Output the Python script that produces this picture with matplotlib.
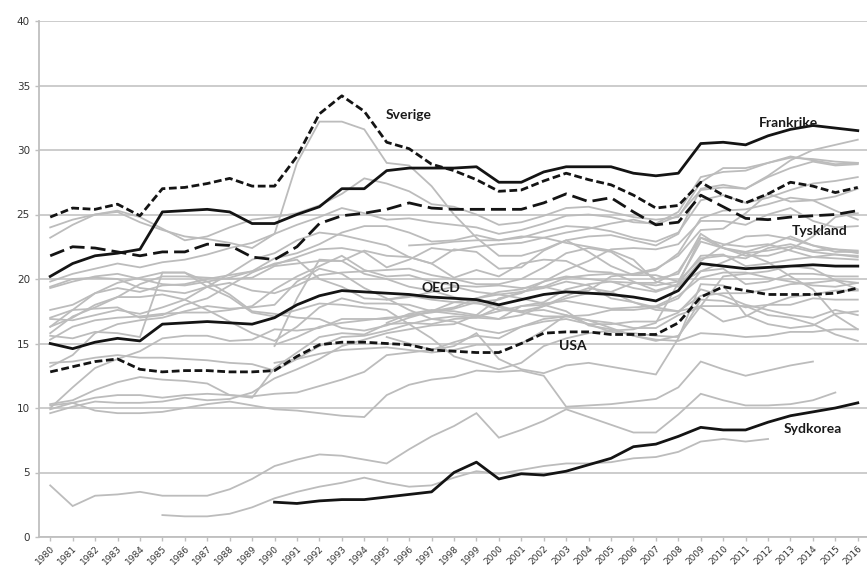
import numpy as np
import matplotlib
matplotlib.use("Agg")
import matplotlib.pyplot as plt

years = list(range(1980, 2017))

# highlighted series, 1980-2016 (None = no data)
sverige = [24.8, 25.5, 25.4, 25.8, 24.9, 27.0, 27.1, 27.4, 27.8, 27.2,
           27.2, 29.5, 32.8, 34.2, 33.0, 30.6, 30.1, 28.9, 28.4, 27.7,
           26.8, 26.9, 27.6, 28.2, 27.7, 27.3, 26.5, 25.5, 25.7, 27.5,
           26.5, 25.9, 26.6, 27.5, 27.2, 26.7, 27.1]
frankrike = [20.2, 21.2, 21.8, 22.0, 22.3, 25.2, 25.3, 25.4, 25.2, 24.3,
             24.3, 25.0, 25.6, 27.0, 27.0, 28.4, 28.6, 28.6, 28.6, 28.7,
             27.5, 27.5, 28.3, 28.7, 28.7, 28.7, 28.2, 28.0, 28.2, 30.5,
             30.6, 30.4, 31.1, 31.6, 31.9, 31.7, 31.5]
tyskland = [21.8, 22.5, 22.4, 22.1, 21.8, 22.1, 22.1, 22.7, 22.6, 21.7,
            21.5, 22.5, 24.3, 24.9, 25.1, 25.4, 25.9, 25.5, 25.4, 25.4,
            25.4, 25.4, 25.9, 26.6, 26.0, 26.3, 25.2, 24.2, 24.4, 26.5,
            25.6, 24.7, 24.6, 24.8, 24.9, 25.0, 25.3]
oecd = [15.0, 14.6, 15.1, 15.4, 15.2, 16.5, 16.6, 16.7, 16.6, 16.5,
        17.0, 18.0, 18.7, 19.1, 19.0, 18.9, 18.8, 18.6, 18.5, 18.4,
        18.0, 18.4, 18.8, 19.0, 18.9, 18.8, 18.6, 18.3, 19.1, 21.2,
        21.0, 20.8, 20.9, 21.0, 21.1, 21.0, 21.0]
usa = [12.8, 13.2, 13.6, 13.8, 13.0, 12.8, 12.9, 12.9, 12.8, 12.8,
       12.9, 14.0, 14.9, 15.1, 15.1, 15.0, 14.9, 14.5, 14.4, 14.3,
       14.3, 15.0, 15.8, 15.9, 15.9, 15.7, 15.7, 15.7, 16.6, 18.6,
       19.4, 19.1, 18.8, 18.8, 18.8, 18.9, 19.3]
sydkorea = [None] * 10 + [
    2.7, 2.6, 2.8, 2.9, 2.9, 3.1, 3.3, 3.5, 5.0, 5.8,
    4.5, 4.9, 4.8, 5.1, 5.6, 6.1, 7.0, 7.2, 7.8, 8.5,
    8.3, 8.3, 8.9, 9.4, 9.7, 10.0, 10.4]

# other OECD countries, drawn in grey
grey_01 = [23.2, 24.2, 25.0, 25.2, 24.4, 23.8, 23.3, 23.1, 22.8, 22.4,
           23.5, 29.0, 32.2, 32.2, 31.6, 29.0, 28.8, 27.2, 25.0, 23.2,
           21.8, 21.8, 22.3, 23.0, 23.3, 23.4, 23.0, 22.6, 23.5, 27.0,
           27.3, 27.0, 28.0, 29.2, 30.0, 30.4, 30.8]
grey_02 = [24.0, 24.6, 25.0, 25.3, 24.8, 23.9, 23.0, 23.3, 24.0, 24.6,
           24.8, 25.1, 25.7, 26.6, 27.8, 27.4, 26.8, 25.8, 25.6, 25.0,
           24.2, 24.4, 24.9, 25.5, 25.6, 25.2, 24.8, 24.6, 24.8, 27.5,
           28.6, 28.6, 29.0, 29.5, 29.2, 28.9, 29.0]
grey_03 = [19.8, 20.4, 20.8, 21.2, 20.9, 21.3, 21.5, 21.9, 22.4, 22.8,
           23.5, 24.2, 24.8, 25.5, 25.1, 24.6, 24.7, 24.4, 24.2, 24.0,
           23.5, 23.8, 24.3, 24.9, 25.0, 24.8, 24.4, 24.3, 25.2, 27.9,
           28.3, 28.4, 29.0, 29.4, 29.3, 29.1, 29.0]
grey_04 = [19.3, 19.8, 20.2, 20.4, 20.0, 19.6, 19.5, 19.8, 20.1, 20.6,
           21.6, 22.0, 22.7, 23.6, 24.1, 24.1, 23.6, 22.9, 23.0, 23.4,
           23.0, 23.2, 23.7, 24.1, 24.0, 23.7, 23.2, 22.9, 23.6, 26.1,
           26.5, 25.9, 26.3, 26.9, 27.4, 27.6, 27.9]
grey_05 = [17.6, 18.0, 18.9, 19.3, 19.0, 19.5, 19.6, 20.0, 20.3, 20.6,
           21.1, 21.7, 22.3, 22.4, 22.1, 20.9, 21.5, 22.4, 22.2, 22.5,
           22.7, 22.8, 23.2, 23.6, 23.9, 24.3, 24.6, 24.2, 24.9, 26.9,
           27.1, 27.0, 27.9, 28.6, 29.1, 28.8, 28.9]
grey_06 = [16.9, 16.8, 17.2, 17.6, 17.3, 17.8, 18.4, 19.4, 20.4, 21.5,
           22.0, 23.0, 23.6, 23.4, 23.0, 22.6, 21.7, 21.2, 22.3, 22.1,
           20.8, 20.9, 22.2, 23.0, 22.1, 21.0, 20.3, 20.3, 19.8, 22.9,
           22.4, 21.8, 21.8, 22.3, 23.3, 24.8, 25.1]
grey_07 = [16.3, 17.0, 18.0, 18.6, 19.6, 20.2, 20.2, 20.1, 20.0, 20.1,
           21.0, 21.2, 21.4, 21.4, 20.4, 20.0, 19.4, 19.1, 18.6, 18.2,
           17.6, 17.5, 17.9, 18.5, 18.9, 19.0, 19.7, 19.5, 19.8, 21.6,
           21.8, 21.6, 22.4, 22.7, 22.2, 22.3, 22.0]
grey_08 = [10.0, 11.6, 13.1, 13.8, 14.4, 15.4, 15.6, 15.6, 15.2, 15.3,
           16.1, 16.0, 16.2, 16.9, 16.9, 16.9, 17.2, 17.4, 17.7, 18.2,
           18.4, 19.0, 19.4, 19.0, 19.1, 20.2, 20.4, 20.8, 21.8, 23.8,
           23.9, 25.1, 26.6, 26.0, 26.1, 26.4, 27.0]
grey_09 = [9.6, 10.1, 10.5, 10.4, 10.4, 10.5, 10.8, 10.6, 10.7, 11.2,
           12.3, 13.0, 13.8, 14.8, 15.3, 15.8, 16.1, 16.4, 16.5, 17.2,
           18.5, 18.9, 19.8, 20.7, 21.4, 22.3, 22.4, 22.3, 22.7, 24.5,
           24.5, 24.2, 25.0, 25.5, 24.5, 24.0, 24.1]
grey_10 = [9.9, 10.4, 10.8, 11.0, 11.0, 10.8, 11.0, 11.1, 11.0, 10.9,
           11.1, 11.2, 11.7, 12.2, 12.8, 14.1, 14.3, 14.5, 15.1, 15.6,
           15.4, 16.3, 16.9, 17.1, 17.2, 17.6, 17.6, 17.8, 18.5, 20.6,
           21.3, 22.0, 22.2, 22.5, 22.1, 21.9, 21.8]
grey_11 = [10.3, 10.6, 11.4, 12.0, 12.4, 12.2, 12.1, 11.9, 11.0, 10.8,
           13.1, 14.3, 15.5, 15.8, 15.7, 16.5, 16.6, 16.5, 16.9, 17.0,
           17.8, 17.4, 17.1, 17.1, 16.8, 16.6, 16.2, 16.2, 17.2, 17.8,
           16.7, 17.1, 18.0, 18.6, 18.8, 19.1, 19.1]
grey_12 = [13.5, 13.6, 13.9, 14.1, 13.9, 13.9, 13.8, 13.7, 13.5, 13.4,
           12.9, 13.8, 14.8, 15.5, 15.6, 16.0, 16.5, 16.9, 17.1, 17.0,
           16.9, 17.2, 17.9, 18.7, 19.3, 19.0, 18.2, 17.6, 17.5, 18.7,
           18.9, 18.9, 19.2, 19.6, 19.7, 19.9, 19.7]
grey_13 = [13.2, 14.1, 15.8, 16.5, 16.8, 17.0, 17.5, 17.9, 17.7, 17.8,
           18.0, 19.8, 20.8, 20.4, 19.3, 18.5, 17.6, 16.9, 16.7, 16.1,
           15.8, 16.3, 16.7, 16.9, 16.5, 16.5, 16.7, 16.7, 17.4, 19.2,
           18.7, 18.0, 17.6, 17.2, 17.0, 17.6, 17.2]
grey_14 = [15.8, 17.1, 17.8, 18.6, 18.6, 18.8, 18.4, 17.6, 16.7, 15.8,
           15.2, 16.3, 17.8, 18.5, 18.1, 18.1, 18.0, 17.5, 17.3, 17.1,
           17.5, 17.9, 18.2, 19.2, 19.6, 19.8, 19.7, 19.7, 20.6, 23.2,
           22.7, 22.5, 22.7, 22.2, 21.7, 21.6, 21.5]
grey_15 = [16.3, 17.6, 18.9, 19.7, 20.1, 20.5, 20.5, 19.4, 18.6, 17.4,
           17.1, 17.6, 18.1, 18.0, 17.8, 17.6, 16.5, 15.4, 14.0, 13.5,
           13.0, 13.5, 14.8, 15.4, 15.8, 16.0, 16.1, 16.6, 19.7, 23.2,
           22.4, 22.0, 21.3, 20.2, 19.2, 17.2, 16.1]
grey_16 = [15.3, 16.3, 16.8, 17.0, 17.1, 17.3, 17.4, 17.4, 17.6, 17.9,
           19.2, 20.2, 21.0, 21.8, 20.7, 20.2, 20.3, 19.8, 19.5, 19.4,
           19.5, 19.3, 19.4, 20.1, 20.3, 20.4, 20.3, 20.7, 22.0, 24.7,
           25.3, 25.4, 25.8, 26.3, 26.1, 25.3, 24.6]
grey_17 = [17.0, 17.6, 17.7, 17.8, 17.0, 17.2, 18.0, 18.5, 19.5, 20.5,
           21.2, 21.5, 20.0, 19.4, 18.5, 18.4, 18.6, 19.0, 19.4, 19.0,
           18.8, 18.5, 18.1, 18.3, 18.0, 17.7, 17.8, 17.9, 18.7, 20.1,
           20.5, 20.5, 20.1, 19.8, 19.5, 19.4, 19.7]
grey_18 = [19.4, 20.0, 20.1, 20.0, 19.3, 19.1, 18.9, 19.4, 19.7, 19.1,
           18.9, 19.5, 20.3, 20.5, 20.6, 20.7, 20.8, 20.3, 20.0, 19.6,
           19.6, 20.0, 20.9, 22.0, 22.4, 22.1, 21.0, 20.0, 20.4, 23.5,
           22.4, 22.1, 22.6, 23.3, 22.6, 22.3, 22.2]
grey_19 = [15.6, 15.4, 15.9, 15.8, 15.5, 20.5, 20.5, 19.8, 18.8, 17.5,
           17.3, 17.0, 16.9, 16.2, 16.0, 16.4, 17.0, 17.5, 18.2, 18.5,
           19.0, 19.2, 19.8, 20.2, 20.0, 19.8, 19.3, 19.0, 19.6, 21.8,
           21.9, 21.0, 21.2, 21.5, 21.7, 21.9, 21.7]
grey_20 = [None] * 10 + [
    14.9, 15.5, 16.3, 16.6, 16.8, 17.0, 17.1, 17.5, 17.8, 18.5,
    18.8, 19.0, 19.3, 19.8, 19.5, 18.5, 18.2, 17.8, 17.5, 17.9,
    20.2, 20.4, 20.6, 21.0, 20.8, 19.9, 19.2, 19.0][:27]
grey_21 = [None] * 10 + [
    14.8, 18.5, 21.5, 21.4, 22.2, 21.8, 21.7, 21.2, 20.1, 20.7,
    20.2, 21.2, 21.5, 21.4, 20.6, 20.5, 19.8, 19.1, 19.6, 20.6,
    20.8, 19.6, 19.8, 20.4, 20.4, 20.2, 20.2]
grey_22 = [None] * 15 + [
    18.4, 18.7, 18.4, 18.2, 18.1, 17.9, 17.5, 17.6, 17.2, 16.5,
    15.9, 15.8, 15.6, 15.5, 18.4, 18.3, 17.8, 18.0, 18.0, 18.5,
    18.4, 18.4]
grey_23 = [None] * 16 + [
    22.6, 22.7, 22.9, 23.0, 23.0, 23.3, 23.2, 22.8, 22.5, 22.2,
    21.5, 19.8, 19.4, 21.4, 22.6, 23.3, 23.4, 23.1, 22.6, 22.1,
    22.1]
grey_24 = [None] * 15 + [
    16.6, 17.3, 17.6, 17.5, 17.2, 16.9, 17.9, 18.0, 17.5, 16.4,
    16.1, 15.6, 15.3, 15.2, 15.8, 15.7, 15.5, 15.6, 15.9, 15.9,
    16.1, 16.1]
grey_25 = [None] * 15 + [
    15.5, 15.0, 14.5, 14.8, 15.8, 13.8, 13.0, 12.7, 13.3, 13.5,
    13.2, 12.9, 12.6, 15.4, 19.6, 19.5, 17.2, 16.5, 16.2, 16.4,
    17.3, 17.5]
grey_26 = [None] * 10 + [
    13.5, 13.8, 14.2, 14.5, 14.6, 14.7, 14.5, 14.3, 14.5, 14.9,
    14.9, 15.0, 16.0, 17.2, 16.8, 16.2, 15.6, 15.2, 15.6, 17.9,
    17.9, 17.9, 17.2, 17.0, 16.5, 15.7, 15.2]
grey_27 = [10.2, 10.4, 9.8, 9.6, 9.6, 9.7, 10.0, 10.3, 10.5, 10.2,
           9.9, 9.8, 9.6, 9.4, 9.3, 11.0, 11.8, 12.2, 12.4, 12.9,
           12.8, 12.9, 12.5, 10.1, 10.2, 10.3, 10.5, 10.7, 11.6, 13.6,
           13.0, 12.5, 12.9, 13.3, 13.6, None, None]
grey_28 = [4.0, 2.4, 3.2, 3.3, 3.5, 3.2, 3.2, 3.2, 3.7, 4.5,
           5.5, 6.0, 6.4, 6.3, 6.0, 5.7, 6.8, 7.8, 8.6, 9.6,
           7.7, 8.3, 9.0, 9.9, 9.3, 8.7, 8.1, 8.1, 9.5, 11.1,
           10.6, 10.2, 10.2, 10.3, 10.6, 11.2, None]
grey_29 = [None] * 5 + [
    1.7, 1.6, 1.6, 1.8, 2.3, 3.0, 3.5, 3.9, 4.2, 4.6,
    4.2, 3.9, 4.0, 4.6, 5.1, 4.9, 5.2, 5.5, 5.7, 5.7,
    5.8, 6.1, 6.2, 6.6, 7.4, 7.6, 7.4, 7.6, None, None,
    None, None]

grey_lines = [grey_01, grey_02, grey_03, grey_04, grey_05, grey_06, grey_07,
              grey_08, grey_09, grey_10, grey_11, grey_12, grey_13, grey_14,
              grey_15, grey_16, grey_17, grey_18, grey_19, grey_20, grey_21,
              grey_22, grey_23, grey_24, grey_25, grey_26, grey_27, grey_28,
              grey_29]


def arr(vals):
    vals = list(vals) + [None] * (len(years) - len(vals))
    return np.array([np.nan if v is None else v for v in vals], dtype=float)


fig = plt.figure(figsize=(8.67, 5.71), dpi=100)
ax = fig.add_axes([39 / 867, 34 / 571, 830 / 867, 516 / 571])

for g in grey_lines:
    ax.plot(years, arr(g), color="#bcbcbc", lw=1.3, zorder=2,
            solid_joinstyle="miter")

blk = dict(color="#141414", lw=2.0, zorder=4)
ax.plot(years, arr(frankrike), **blk)
ax.plot(years, arr(oecd), **blk)
ax.plot(years, arr(sydkorea), **blk)
ax.plot(years, arr(sverige), dashes=(2.8, 1.3), **blk)
ax.plot(years, arr(usa), dashes=(2.8, 1.3), **blk)
ax.plot(years, arr(tyskland), dashes=(5.4, 2.2), **blk)

lab = dict(fontsize=10, fontweight="bold", family=["Lato", "DejaVu Sans"],
           color="#1a1a1a", ha="center", va="center", zorder=6)
ax.text(1996.0, 32.7, "Sverige", **lab)
ax.text(2012.9, 32.1, "Frankrike", **lab)
ax.text(2014.3, 23.7, "Tyskland", **lab)
ax.text(1997.4, 19.3, "OECD", **lab)
ax.text(2003.3, 14.8, "USA", **lab)
ax.text(2014.0, 8.4, "Sydkorea", **lab)

ax.set_xlim(1979.5, 2016.5)
ax.set_ylim(0, 40)
ax.set_yticks(range(0, 41, 5))
ax.set_xticks(years)
ax.set_xticklabels([str(y) for y in years], rotation=45, ha="right",
                   rotation_mode="anchor", fontsize=6.5, color="#333333")
ax.tick_params(axis="y", labelsize=7.5, labelcolor="#333333", length=3,
               color="#bfbfbf", width=1)
ax.tick_params(axis="x", length=3, color="#bfbfbf", width=1, pad=2)
ax.grid(axis="y", color="#c8c8c8", lw=1.3, zorder=1)
ax.set_axisbelow(True)
for side in ("top", "right"):
    ax.spines[side].set_visible(False)
for side in ("left", "bottom"):
    ax.spines[side].set_color("#bfbfbf")
    ax.spines[side].set_linewidth(1.3)

fig.savefig("out.png", dpi=100, facecolor="white")
